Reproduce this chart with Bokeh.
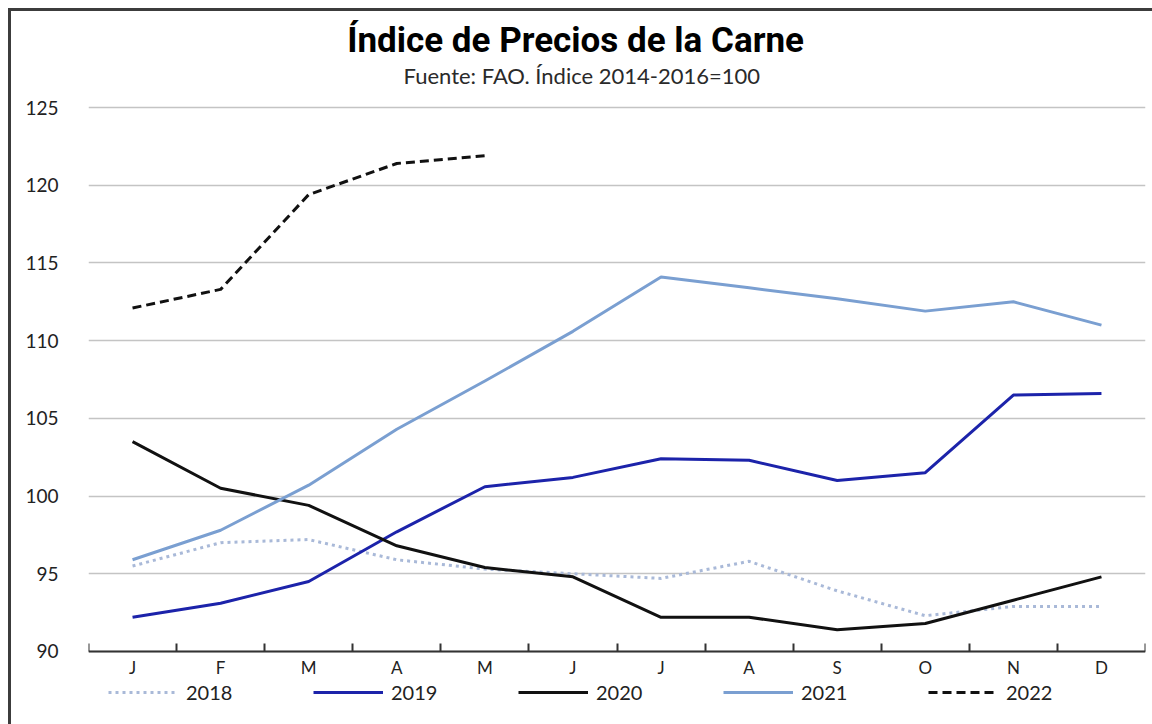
from bokeh.plotting import figure
from bokeh.models import FixedTicker, Label, Legend, LegendItem, Range1d
from bokeh.embed import file_html
from bokeh.resources import INLINE

months = ["J", "F", "M", "A", "M", "J", "J", "A", "S", "O", "N", "D"]
v2018 = [95.5, 97.0, 97.2, 95.9, 95.3, 95.0, 94.7, 95.8, 93.9, 92.3, 92.9, 92.9]
v2019 = [92.2, 93.1, 94.5, 97.7, 100.6, 101.2, 102.4, 102.3, 101.0, 101.5, 106.5, 106.6]
v2020 = [103.5, 100.5, 99.4, 96.8, 95.4, 94.8, 92.2, 92.2, 91.4, 91.8, 93.3, 94.8]
v2021 = [95.9, 97.8, 100.7, 104.3, 107.4, 110.6, 114.1, 113.4, 112.7, 111.9, 112.5, 111.0]
v2022 = [112.1, 113.3, 119.4, 121.4, 121.9]
years = ["2018", "2019", "2020", "2021", "2022"]
y_ticks = [90, 95, 100, 105, 110, 115, 120, 125]

title_text = "Índice de Precios de la Carne"
subtitle_text = "Fuente: FAO. Índice 2014-2016=100"

FONT = "Lato"

xpos = [i + 0.5 for i in range(len(months))]

# The frame spans the whole picture height (title and legend sit inside it);
# the x axis is pinned at 90.
p = figure(frame_width=1057, frame_height=713, output_backend="svg",
           toolbar_location=None, title=None,
           x_range=Range1d(0, 12), y_range=Range1d(85.30, 131.18),
           min_border_left=77, min_border_right=7, min_border_top=0,
           min_border_bottom=0)
p.outline_line_color = None
p.background_fill_color = "white"
p.border_fill_color = "white"
p.styles = {"margin-left": "8px", "margin-top": "8px",
            "border-left": "3px solid #3c3c3c", "border-top": "3px solid #3c3c3c"}

# x axis: labels at month centres, tick marks at boundaries
p.xaxis.fixed_location = 90
p.xaxis.ticker = FixedTicker(ticks=xpos, minor_ticks=list(range(13)))
p.xaxis.major_label_overrides = {x: m for x, m in zip(xpos, months)}
p.xaxis.major_tick_in = 0
p.xaxis.major_tick_out = 0
p.xaxis.minor_tick_in = 8
p.xaxis.minor_tick_out = 0
p.xaxis.minor_tick_line_color = "#333333"
p.xaxis.minor_tick_line_width = 2
p.xaxis.axis_line_color = "#333333"
p.xaxis.axis_line_width = 2
p.xaxis.major_label_text_font = FONT
p.xaxis.major_label_text_font_size = "17px"
p.xaxis.major_label_text_color = "#222222"
p.xaxis.major_label_standoff = 6

p.yaxis.ticker = FixedTicker(ticks=y_ticks)
p.yaxis.axis_line_color = None
p.yaxis.major_tick_line_color = None
p.yaxis.minor_tick_line_color = None
p.yaxis.major_label_text_font = FONT
p.yaxis.major_label_text_font_size = "19px"
p.yaxis.major_label_text_color = "#222222"
p.yaxis.major_label_standoff = 24

p.xgrid.grid_line_color = None
p.ygrid.grid_line_color = "#c4c4c4"
p.ygrid.grid_line_width = 1.5

styles = {
    "2018": dict(line_color="#a9b9d8", line_width=3, line_dash="3 4"),
    "2019": dict(line_color="#1c23aa", line_width=3),
    "2020": dict(line_color="#111111", line_width=3),
    "2021": dict(line_color="#7a9fd1", line_width=3),
    "2022": dict(line_color="#111111", line_width=3, line_dash="9 5"),
}
series = [v2018, v2019, v2020, v2021, v2022]
items = []
for yr, vals in zip(years, series):
    r = p.line(xpos[:len(vals)], vals, line_join="round", **styles[yr])
    items.append(LegendItem(label=yr, renderers=[r]))

legend = Legend(items=items, orientation="horizontal", location=(20, 20),
                glyph_width=70, glyph_height=20, label_standoff=8, spacing=8,
                padding=0, margin=0, border_line_color=None,
                background_fill_alpha=0,
                label_text_font=FONT, label_text_font_size="20px",
                label_text_color="#222222", label_width=119)
p.add_layout(legend, "center")

p.add_layout(Label(x=5.53, y=129.31, text=title_text, text_align="center",
                   text_baseline="middle", text_font="Roboto",
                   text_font_style="bold", text_font_size="35px",
                   text_color="#000000"))
p.add_layout(Label(x=5.60, y=127.06, text=subtitle_text, text_align="center",
                   text_baseline="middle", text_font=FONT,
                   text_font_size="22px", text_color="#2a2a2a"))

open("out.html", "w").write(file_html(p, INLINE))
